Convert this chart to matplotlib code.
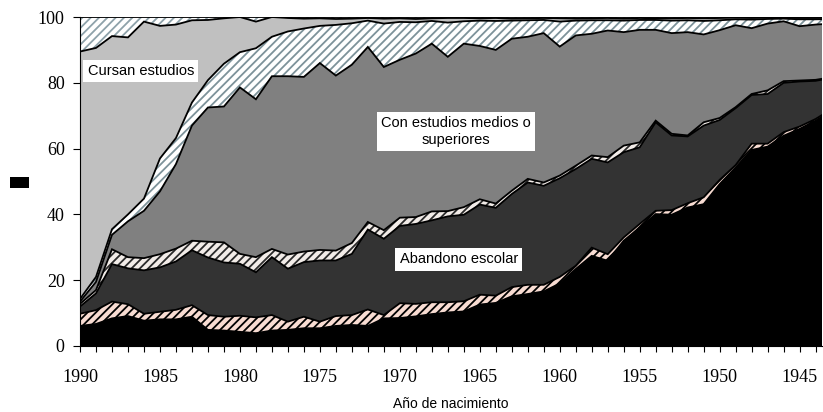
import numpy as np
import matplotlib
matplotlib.use("Agg")
import matplotlib.pyplot as plt
from matplotlib.ticker import FixedLocator, FuncFormatter
from matplotlib.patches import Rectangle

# años de nacimiento (eje invertido)
anios = list(range(1990, 1942, -1))

# limites superiores acumulados de cada capa (%)
lim_negro = [6.1, 6.7, 8.4, 9.1, 7.7, 8.1, 8.1, 8.9, 4.9, 4.7,
             4.3, 3.9, 4.7, 4.9, 5.4, 5.4, 6.1, 6.4, 6.1, 8.4,
             8.5, 9.0, 9.7, 10.2, 10.5, 12.6, 13.1, 15.1, 15.8, 16.6,
             19.0, 23.4, 27.4, 25.9, 32.0, 36.0, 40.1, 39.9, 42.1, 43.1,
             49.2, 54.3, 59.6, 60.6, 63.9, 66.0, 68.5, 71.6]
lim_rosa = [9.8, 10.9, 13.5, 12.7, 9.8, 10.4, 11.0, 12.4, 9.4, 8.9,
            9.2, 8.7, 9.4, 7.4, 8.9, 7.4, 9.1, 9.4, 11.1, 9.4,
            13.0, 12.8, 13.3, 13.3, 13.6, 15.6, 15.3, 17.9, 18.6, 18.6,
            21.0, 24.4, 29.9, 27.9, 33.0, 37.1, 41.1, 41.3, 43.4, 45.2,
            50.5, 55.0, 61.5, 61.5, 65.0, 66.7, 69.0, 72.0]
lim_abandono = [12.0, 16.0, 24.9, 23.6, 23.0, 23.9, 25.7, 29.1, 26.9, 25.4,
                25.0, 22.4, 27.0, 23.5, 25.5, 26.0, 26.0, 28.0, 35.4, 32.6,
                36.5, 37.1, 38.2, 39.4, 39.9, 43.0, 42.0, 46.2, 49.7, 48.7,
                51.0, 53.8, 56.9, 55.8, 58.9, 60.4, 68.0, 64.0, 63.7, 67.0,
                68.7, 72.3, 76.3, 76.6, 80.0, 80.4, 80.6, 81.5]
lim_rayado = [12.8, 17.0, 29.4, 27.0, 26.7, 27.9, 29.6, 32.0, 31.7, 31.5,
              28.0, 27.0, 29.5, 27.8, 28.7, 29.2, 29.0, 31.3, 37.7, 35.2,
              39.0, 39.2, 40.9, 41.0, 42.2, 44.6, 43.3, 47.2, 50.8, 49.7,
              51.8, 54.8, 57.9, 57.4, 60.9, 61.9, 68.5, 64.5, 64.0, 68.0,
              69.3, 72.6, 76.6, 77.7, 80.5, 80.7, 80.9, 81.7]
lim_medios = [13.5, 19.5, 33.8, 37.9, 41.1, 47.0, 55.3, 67.0, 72.5, 72.8,
              78.6, 75.0, 82.0, 82.0, 81.8, 86.0, 82.2, 85.5, 90.9, 84.8,
              87.0, 88.9, 91.9, 87.9, 91.9, 91.2, 90.0, 93.4, 94.0, 95.1,
              91.0, 94.4, 94.9, 95.9, 95.4, 96.1, 96.1, 95.1, 95.4, 94.7,
              96.0, 97.5, 96.6, 98.0, 98.7, 97.2, 97.7, 98.0]
lim_rayado2 = [14.3, 21.0, 35.5, 40.0, 44.8, 57.0, 63.2, 74.0, 80.8, 85.8,
               89.3, 90.5, 94.0, 95.6, 96.5, 97.3, 97.6, 98.1, 98.9, 98.0,
               98.5, 98.4, 98.8, 98.3, 98.7, 98.9, 98.8, 98.9, 99.0, 99.1,
               98.6, 98.9, 99.0, 99.0, 98.9, 99.1, 99.1, 98.9, 99.0, 98.8,
               99.0, 99.3, 99.2, 99.4, 99.5, 99.3, 99.3, 99.4]
lim_cursan = [89.5, 90.6, 94.2, 93.8, 98.6, 97.3, 97.7, 99.0, 99.1, 99.6,
              100, 98.6, 100, 99.7, 99.5, 99.6, 99.4, 99.5, 99.7, 99.5,
              99.6, 99.4, 99.6, 99.7, 99.7, 99.6, 99.7, 99.5, 99.6, 99.7,
              99.6, 99.5, 99.6, 99.7, 99.5, 99.7, 99.6, 99.6, 99.7, 99.6,
              99.7, 99.8, 99.7, 99.8, 99.8, 99.7, 99.7, 99.8]
total = [100] * len(anios)

plt.rcParams["hatch.linewidth"] = 1.3

fig = plt.figure(figsize=(8.23, 4.12), dpi=100)
ax = fig.add_axes([80 / 823, 1 - 346 / 412, 742 / 823, 329 / 412])

x = np.array(anios)
ceros = np.zeros(len(anios))
capas = [
    (ceros, lim_negro, "#000000", None, None),
    (lim_negro, lim_rosa, "#f8dcd2", "////", "#000000"),
    (lim_rosa, lim_abandono, "#333333", None, None),
    (lim_abandono, lim_rayado, "#f2ece8", "////", "#2a2a2a"),
    (lim_rayado, lim_medios, "#808080", None, None),
    (lim_medios, lim_rayado2, "#ffffff", "////", "#7d929a"),
    (lim_rayado2, lim_cursan, "#c0c0c0", None, None),
    (lim_cursan, total, "#ffffff", "////", "#8ea2aa"),
]
for abajo, arriba, color, trama, col_trama in capas:
    if trama:
        ax.fill_between(x, abajo, arriba, facecolor=color, hatch=trama,
                        edgecolor=col_trama, linewidth=0)
    else:
        ax.fill_between(x, abajo, arriba, facecolor=color, linewidth=0)

for lim in [lim_negro, lim_rosa, lim_abandono, lim_rayado, lim_medios,
            lim_rayado2, lim_cursan, total]:
    ax.plot(x, lim, color="black", lw=1.3, solid_joinstyle="miter")

ax.set_xlim(1990, 1943.6)
ax.set_ylim(0, 100)
ax.spines["top"].set_visible(False)
ax.spines["right"].set_visible(False)

ax.xaxis.set_major_locator(FixedLocator(list(range(1990, 1943, -1))))
ax.xaxis.set_major_formatter(FuncFormatter(lambda v, p: str(int(round(v))) if int(round(v)) % 5 == 0 else ""))
ax.set_yticks([0, 20, 40, 60, 80, 100])
serif = "Liberation Serif"
for lab in ax.get_xticklabels() + ax.get_yticklabels():
    lab.set_family(serif)
ax.tick_params(axis="x", length=4.5, width=0.8, pad=12, labelsize=13)
ax.tick_params(axis="y", length=5, width=0.8, pad=6, labelsize=13)

ax.set_xlabel("Año de nacimiento", family="Liberation Sans", fontsize=10, labelpad=8)

caja = dict(facecolor="white", edgecolor="none", boxstyle="square,pad=0.3")
ax.text(1986.2, 83.6, "Cursan estudios", family="Liberation Sans", fontsize=10.5,
        ha="center", va="center", bbox=caja)
ax.text(1966.5, 65.2, "Con estudios medios o\nsuperiores", family="Liberation Sans",
        fontsize=10.5, ha="center", va="center", linespacing=1.2, bbox=caja)
ax.text(1966.3, 26.3, "Abandono escolar", family="Liberation Sans", fontsize=10.5,
        ha="center", va="center", bbox=caja)

# recuadro negro junto al eje y
fig.patches.append(Rectangle((10 / 823, 1 - 188 / 412), 19 / 823, 11 / 412,
                             transform=fig.transFigure, facecolor="black",
                             edgecolor="none"))

fig.savefig("out.png", dpi=100)
